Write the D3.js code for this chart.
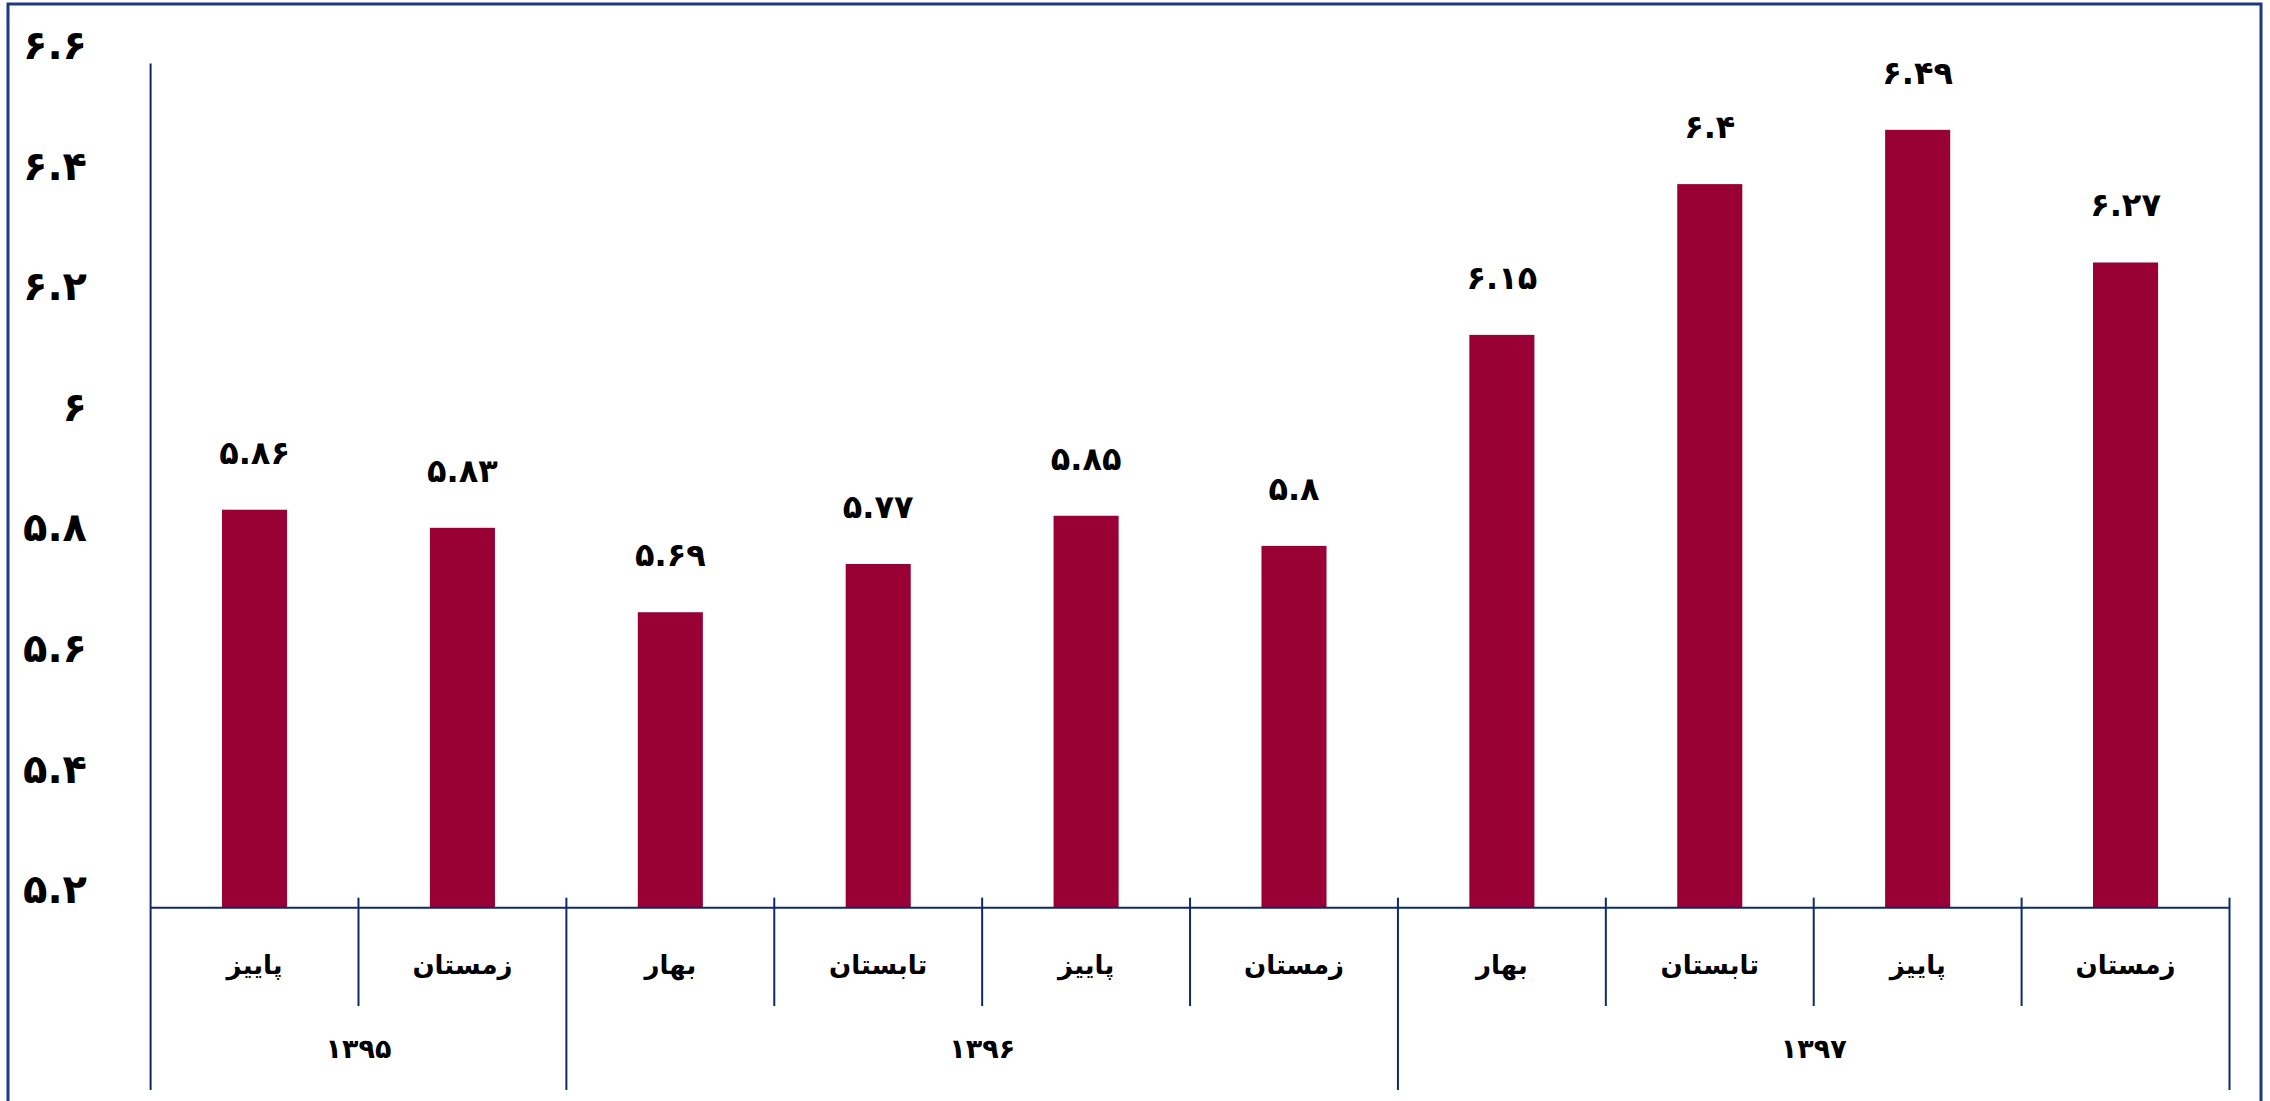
<!DOCTYPE html>
<html lang="fa">
<head>
    <meta charset="UTF-8">
    <title>chart</title>
    <script src="https://d3js.org/d3.v7.min.js"></script>
    <style>
        body { margin: 0; background: #fff; }
        text { font-family: 'DejaVu Sans', sans-serif; font-weight: bold; fill: #000; }
        text.tick { font-size: 40px; text-anchor: end; }
        text.value { font-size: 32px; text-anchor: middle; }
        text.quarter { font-size: 26px; text-anchor: middle; dominant-baseline: middle; }
        text.year { font-size: 27px; text-anchor: middle; dominant-baseline: middle; }
        .rule { stroke: #0b2a6b; stroke-width: 2; }
    </style>
</head>
<body>
<svg width="2270" height="1101"></svg>
<script>
    // data
    const quarters = ["پاییز", "زمستان", "بهار", "تابستان", "پاییز", "زمستان", "بهار", "تابستان", "پاییز", "زمستان"];
    const values = [5.86, 5.83, 5.69, 5.77, 5.85, 5.8, 6.15, 6.4, 6.49, 6.27];
    const years = ["۱۳۹۵", "۱۳۹۶", "۱۳۹۷"];
    const yearSpans = [2, 4, 4];
    const yTicks = [5.2, 5.4, 5.6, 5.8, 6, 6.2, 6.4, 6.6];

    const svg = d3.select("svg");
    const left = 150.6, right = 2229.5, bottom = 1090;

    const fa = v => String(v).replace(/\d/g, d => "۰۱۲۳۴۵۶۷۸۹"[d]);

    const x = d3.scaleBand().domain(d3.range(quarters.length)).range([left, right]).padding(0);
    const y = d3.scaleLinear().domain([5.2, 6.6]).range([907.7, 63.5]);
    const barW = x.bandwidth() * 0.313;

    // outer frame
    svg.append("rect").attr("x", 8).attr("y", 4).attr("width", 2253).attr("height", 1120)
        .attr("fill", "none").attr("stroke", "#1b3a80").attr("stroke-width", 3);

    // bars
    svg.selectAll("rect.bar").data(values).enter().append("rect")
        .attr("class", "bar")
        .attr("x", (d, i) => x(i) + (x.bandwidth() - barW) / 2)
        .attr("width", barW)
        .attr("y", d => y(d))
        .attr("height", d => y(5.2) - y(d))
        .attr("fill", "#990033");

    svg.selectAll("text.value").data(values).enter().append("text")
        .attr("class", "value")
        .attr("x", (d, i) => x(i) + x.bandwidth() / 2)
        .attr("y", d => y(d) - 46)
        .text(d => fa(d));

    // y axis
    const yAxis = d3.axisLeft(y).tickValues(yTicks).tickSize(0).tickFormat(fa);
    const gy = svg.append("g").attr("transform", `translate(87,0)`).call(yAxis);
    gy.select(".domain").remove();
    gy.selectAll("text").attr("class", "tick").attr("x", 0).attr("dy", null)
        .attr("y", -5);
    gy.attr("font-size", null).attr("font-family", null);

    svg.append("line").attr("class", "rule")
        .attr("x1", left).attr("x2", left).attr("y1", y(6.6)).attr("y2", bottom);

    // x axis
    svg.append("line").attr("class", "rule")
        .attr("x1", left).attr("x2", right).attr("y1", y(5.2)).attr("y2", y(5.2));

    const yearEdges = [0];
    yearSpans.forEach(s => yearEdges.push(yearEdges[yearEdges.length - 1] + s));
    const edgeX = i => i < quarters.length ? x(i) : right;

    svg.selectAll("line.div").data(d3.range(1, quarters.length + 1)).enter().append("line")
        .attr("class", "rule div")
        .attr("x1", edgeX).attr("x2", edgeX)
        .attr("y1", y(5.2) - 10)
        .attr("y2", i => yearEdges.includes(i) ? bottom : 1006);

    svg.selectAll("text.quarter").data(quarters).enter().append("text")
        .attr("class", "quarter")
        .attr("x", (d, i) => x(i) + x.bandwidth() / 2)
        .attr("y", 966)
        .text(d => d);

    svg.selectAll("text.year").data(years).enter().append("text")
        .attr("class", "year")
        .attr("x", (d, i) => (edgeX(yearEdges[i]) + edgeX(yearEdges[i + 1])) / 2)
        .attr("y", 1050)
        .text(d => d);
</script>
</body>
</html>
